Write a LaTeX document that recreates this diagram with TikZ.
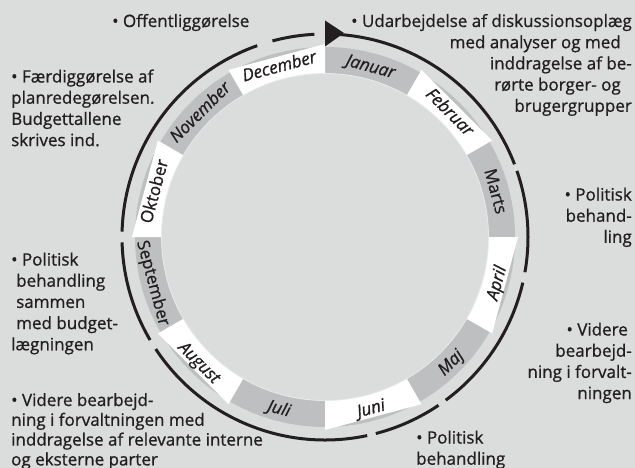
\documentclass[tikz,border=0pt]{standalone}
\usepackage{fontspec}
\setmainfont{Open Sans}[RawFeature={embolden=0.9}]
\definecolor{bg}{HTML}{DADDDC}
\definecolor{ringgray}{HTML}{BEBFC1}
\definecolor{ink}{HTML}{231F20}
\definecolor{rimline}{HTML}{E9EAEA}
\begin{document}
\begin{tikzpicture}[x=1pt,y=1pt,
  arcline/.style={line width=3pt, ink},
  label/.style={inner sep=0pt, font=\fontsize{17}{21.2}\selectfont, text=ink},
  month/.style={inner sep=0pt, font=\fontsize{17}{20}\selectfont\itshape, text=ink, text height=12pt, text depth=0pt},
  monthup/.style={month, font=\fontsize{17}{20}\selectfont\upshape},
]
\fill[bg] (0,0) rectangle (635,-468);
\useasboundingbox (0,0) rectangle (635,-468);
\begin{scope}[shift={(325,-237)}]
  % ring
  \fill[ringgray] (0,0) circle[radius=190];
  \foreach \a in {105,45,-15,-75,-135,165}{
    \fill[white] ({\a-15}:163) -- ({\a-15}:193) -- ({\a+15}:193) -- ({\a+15}:163) -- cycle;
  }
  \fill[bg] (0,0) circle[radius=163.5];
  \draw[rimline, line width=0.8pt] (0,0) circle[radius=163.5];
  % month labels
  \node[month, rotate=-15]  (jan) at (75:177)   {Januar};
  \node[month, rotate=-45]  (feb) at (45:177)   {Februar};
  \node[monthup, rotate=-75] (mar) at (15:177)  {Marts};
  \node[month, rotate=75]   (apr) at (-15:177)  {April};
  \node[month, rotate=45]   (maj) at (-45:177)  {Maj};
  \node[month, rotate=15]   (jun) at (-75:177)  {Juni};
  \node[month, rotate=-15]  (jul) at (-105:177) {Juli};
  \node[month, rotate=-45]  (aug) at (-135:177) {August};
  \node[monthup, rotate=-75] (sep) at (-165:177) {September};
  \node[monthup, rotate=75] (okt) at (165:177)  {Oktober};
  \node[month, rotate=45]   (nov) at (135:177)  {November};
  \node[month, rotate=15]   (dec) at (105:177)  {December};
  % outer arcs
  \draw[arcline] (86:203) arc[start angle=86, end angle=21, radius=203];
  \draw[arcline] (19:203) arc[start angle=19, end angle=-10, radius=203];
  \draw[arcline] (-13:203) arc[start angle=-13, end angle=-53.5, radius=203];
  \draw[arcline] (-56:203) arc[start angle=-56, end angle=-75.5, radius=203];
  \draw[arcline] (-78:203) arc[start angle=-78, end angle=-146.5, radius=203];
  \draw[arcline] (-149.5:203) arc[start angle=-149.5, end angle=-178.5, radius=203];
  \draw[arcline] (178.5:203) arc[start angle=178.5, end angle=109.5, radius=203];
  \draw[arcline] (105:203) arc[start angle=105, end angle=93, radius=203];
  \fill[ink] (0,216.5) -- (19,204) -- (0,190.5) -- cycle;
\end{scope}
% text blocks
\node[label, anchor=base west] (offentlig) at (112,-27) {• Offentliggørelse};
\node[label, anchor=base west] (faerdig) at (11,-82.5) {\begin{tabular}[t]{@{}l@{}}• Færdiggørelse af\\planredegørelsen.\\Budgettallene\\skrives ind.\end{tabular}};
\node[label, anchor=base east] (udarb) at (632,-27) {\begin{tabular}[t]{@{}r@{}}• Udarbejdelse af diskussionsoplæg\\med analyser og med\hspace*{11pt}\\inddragelse af be-\\rørte borger- og\hspace*{11pt}\\brugergrupper\end{tabular}};
\node[label, anchor=base east] (polmar) at (632,-200.5) {\begin{tabular}[t]{@{}r@{}}• Politisk\\behand-\\ling\end{tabular}};
\node[label, anchor=base east] (videreapr) at (632,-335.5) {\begin{tabular}[t]{@{}r@{}}• Videre\hspace*{4pt}\\bearbejd-\\ning i forvalt-\\ningen\end{tabular}};
\node[label, anchor=base west] (poljun) at (416,-443.5) {\begin{tabular}[t]{@{}l@{}}• Politisk\\behandling\end{tabular}};
\node[label, anchor=base west] (polsep) at (11,-265.5) {\begin{tabular}[t]{@{}l@{}}• Politisk\\\hspace*{5pt}behandling\\\hspace*{5pt}sammen\\\hspace*{5pt}med budget-\\lægningen\end{tabular}};
\node[label, anchor=base west, font=\fontsize{17}{19.8}\selectfont] (viderejul) at (11,-406) {\begin{tabular}[t]{@{}l@{}}• Videre bearbejd-\\ning i forvaltningen med\\inddragelse af relevante interne\\og eksterne parter\end{tabular}};
\end{tikzpicture}
\end{document}
